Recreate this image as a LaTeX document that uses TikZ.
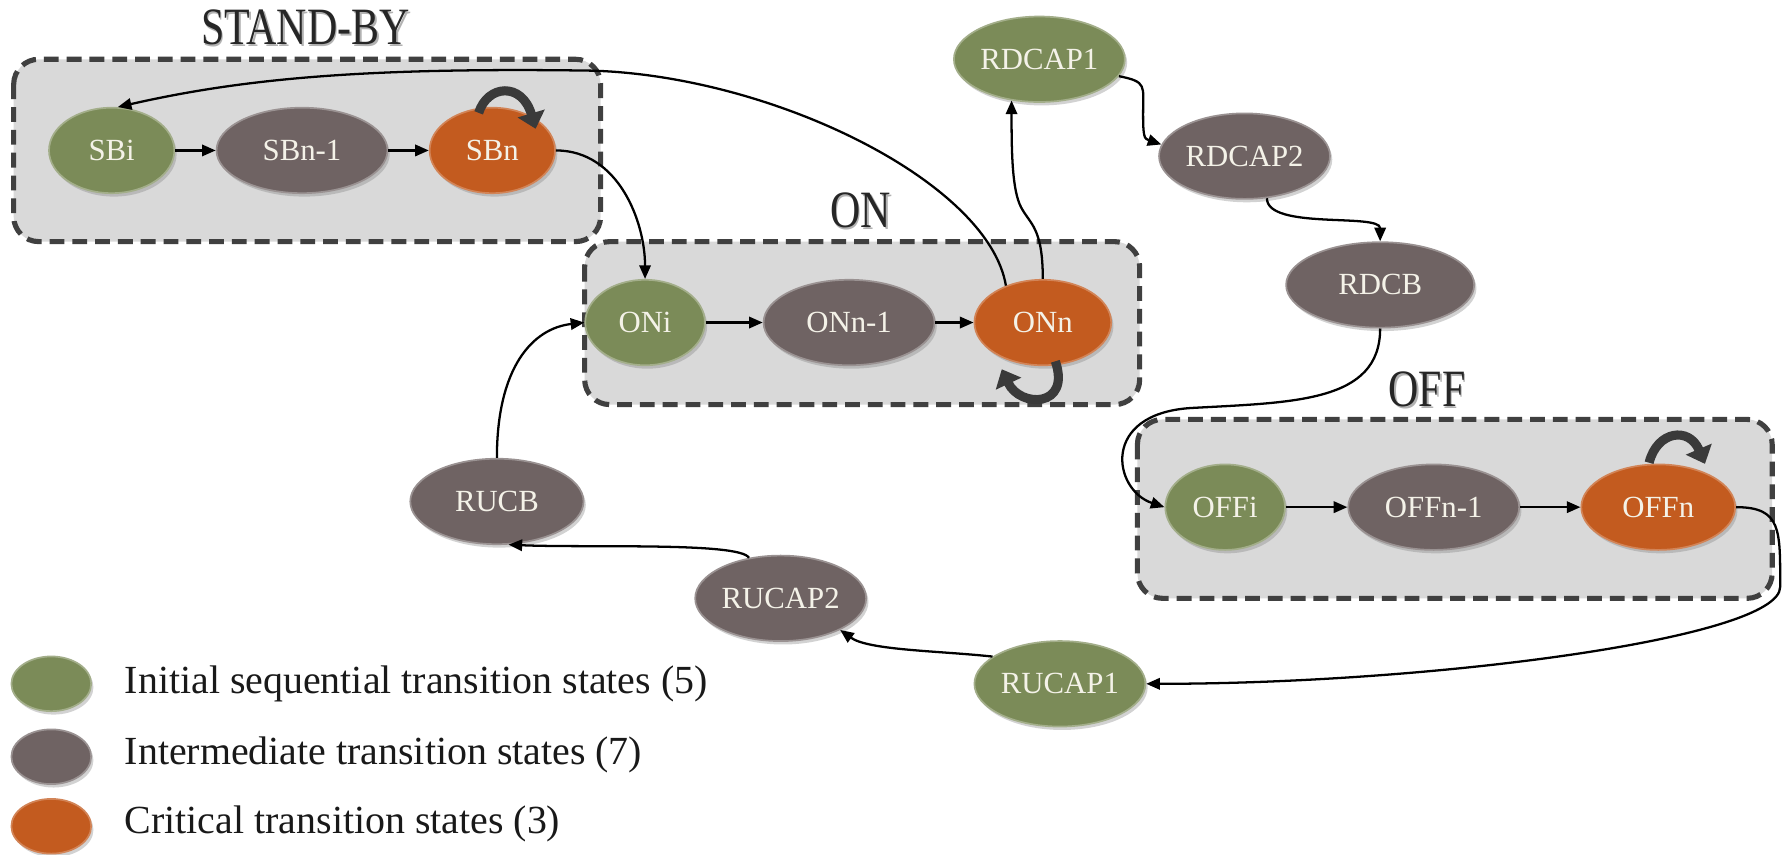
\documentclass[tikz,border=0pt]{standalone}
\usepackage{fontspec}
\setmainfont{Liberation Serif}
\newfontfamily\titlefont[FakeStretch=0.8]{Liberation Serif}
\usetikzlibrary{shapes.geometric,arrows.meta,shadows}
\definecolor{cgreen}{HTML}{7B8B58}
\definecolor{cgray}{HTML}{6F6363}
\definecolor{corange}{HTML}{C35B1F}
\definecolor{boxfill}{HTML}{D9D9D9}
\definecolor{boxline}{HTML}{404040}
\definecolor{ntext}{HTML}{F4F2E8}
\definecolor{loopc}{HTML}{3A3A3A}
\tikzset{
  state/.style={ellipse, inner sep=0pt, minimum height=75pt, text=ntext,
    font=\fontsize{27}{29}\selectfont, line width=1.5pt,
    drop shadow={shadow xshift=2pt, shadow yshift=-3pt, opacity=0.35}},
  green/.style={state, fill=cgreen, draw=cgreen!70!white},
  grey/.style={state, fill=cgray, draw=cgray!70!white},
  orange/.style={state, fill=corange, draw=corange!75!white},
  group/.style={fill=boxfill, draw=boxline, line width=4.5pt, rounded corners=22pt,
    dash pattern=on 13pt off 7pt},
  title/.style={font=\titlefont\fontsize{46}{48}\selectfont, text=black!85},
  titleshadow/.style={title, text=black!30},
  arr/.style={-{Triangle[length=12pt,width=10pt]}, line width=2pt},
  selfloop/.style={line width=8pt, draw=loopc, -{Triangle[length=14pt,width=24pt]}},
  legend/.style={anchor=west, font=\fontsize{35}{37}\selectfont, text=black!90},
}
\begin{document}
\begin{tikzpicture}[x=1pt,y=-1pt]
\useasboundingbox (0,0) rectangle (1568,750);
\fill[white] (0,0) rectangle (1568,750);

% group boxes
\draw[group] (12,52) rectangle (527,212);
\draw[group] (513,212) rectangle (1000,355);
\draw[group] (998,368) rectangle (1555,525);

\node[titleshadow] (tSBs) at (269.5,25.5) {STAND-BY};
\node[titleshadow] (tONs) at (756.5,186.5) {ON};
\node[titleshadow] (tOFFs) at (1253.5,343.5) {OFF};
\node[title] (tSB) at (268,24) {STAND-BY};
\node[title] (tON) at (755,185) {ON};
\node[title] (tOFF) at (1252,342) {OFF};

% states
\node[green, minimum width=110pt] (SBi) at (98,132) {SBi};
\node[grey, minimum width=150pt] (SBn1) at (265,132) {SBn-1};
\node[orange, minimum width=110pt] (SBn) at (432,132) {SBn};

\node[green, minimum width=105pt] (ONi) at (566,283) {ONi};
\node[grey, minimum width=150pt] (ONn1) at (745,283) {ONn-1};
\node[orange, minimum width=120pt] (ONn) at (915,283) {ONn};

\node[green, minimum width=150pt] (RDCAP1) at (912,52) {RDCAP1};
\node[grey, minimum width=150pt] (RDCAP2) at (1092,137) {RDCAP2};
\node[grey, minimum width=165pt] (RDCB) at (1211,250) {RDCB};

\node[green, minimum width=105pt] (OFFi) at (1075,445) {OFFi};
\node[grey, minimum width=150pt] (OFFn1) at (1258,445) {OFFn-1};
\node[orange, minimum width=135pt] (OFFn) at (1455,445) {OFFn};

\node[green, minimum width=150pt] (RUCAP1) at (930,600) {RUCAP1};
\node[grey, minimum width=150pt] (RUCAP2) at (685,525) {RUCAP2};
\node[grey, minimum width=152pt] (RUCB) at (436,440) {RUCB};

% straight transitions
\draw[arr] (SBi) -- (SBn1);
\draw[arr] (SBn1) -- (SBn);
\draw[arr] (ONi) -- (ONn1);
\draw[arr] (ONn1) -- (ONn);
\draw[arr] (OFFi) -- (OFFn1);
\draw[arr] (OFFn1) -- (OFFn);

% curved transitions
\draw[arr] (SBn.east) .. controls +(55,0) and +(0,-50) .. (ONi.north);
\draw[arr] (ONn.135) .. controls +(-15,-90) and +(160,5) .. (520,62)
  .. controls +(-200,-3) and +(110,-25) .. (SBi.82);
\draw[arr] (ONn.north) .. controls +(0,-45) and +(8,15) .. (896,182)
  .. controls +(-8,-15) and +(0,45) .. (RDCAP1.236);
\draw[arr] (RDCAP1.-12) .. controls +(25,5) and +(0,-25) .. (1003,100)
  .. controls +(0,20) and +(-15,-5) .. (RDCAP2.172);
\draw[arr] (RDCAP2.-62) .. controls +(0,28) and +(0,-25) .. (RDCB.north);
\draw[arr] (RDCB.south) .. controls +(0,65) and +(90,-5) .. (1045,358)
  .. controls +(-80,5) and +(-45,-15) .. (OFFi.west);
\draw[arr] (OFFn.east) .. controls +(40,0) and +(0,-50) .. (1562,515)
  .. controls +(0,45) and +(250,0) .. (RUCAP1.east);
\draw[arr] (RUCAP1.158) .. controls +(-45,-5) and +(25,18) .. (RUCAP2.-28);
\draw[arr] (RUCAP2.128) .. controls +(-8,-14) and +(70,3) .. (RUCB.-75);
\draw[arr] (RUCB.north) .. controls +(0,-80) and +(-45,5) .. (ONi.west);

% self loops
\draw[selfloop] (420,99) .. controls (428,74) and (458,72) .. (470,113);
\draw[selfloop] (1447,406) .. controls (1454,378) and (1482,374) .. (1496,407);
\draw[selfloop] (926,317) .. controls (940,358) and (895,358) .. (879,324);

% legend
\node[green, minimum width=70pt, minimum height=48pt] (Lg) at (45,600) {};
\node[grey, minimum width=70pt, minimum height=48pt] (Lgr) at (45,664) {};
\node[orange, minimum width=70pt, minimum height=48pt] (Lo) at (45,725) {};
\node[legend] (Tg) at (106,600) {Initial sequential transition states (5)};
\node[legend] (Tgr) at (106,662) {Intermediate transition states (7)};
\node[legend] (To) at (106,723) {Critical transition states (3)};
\end{tikzpicture}
\end{document}
